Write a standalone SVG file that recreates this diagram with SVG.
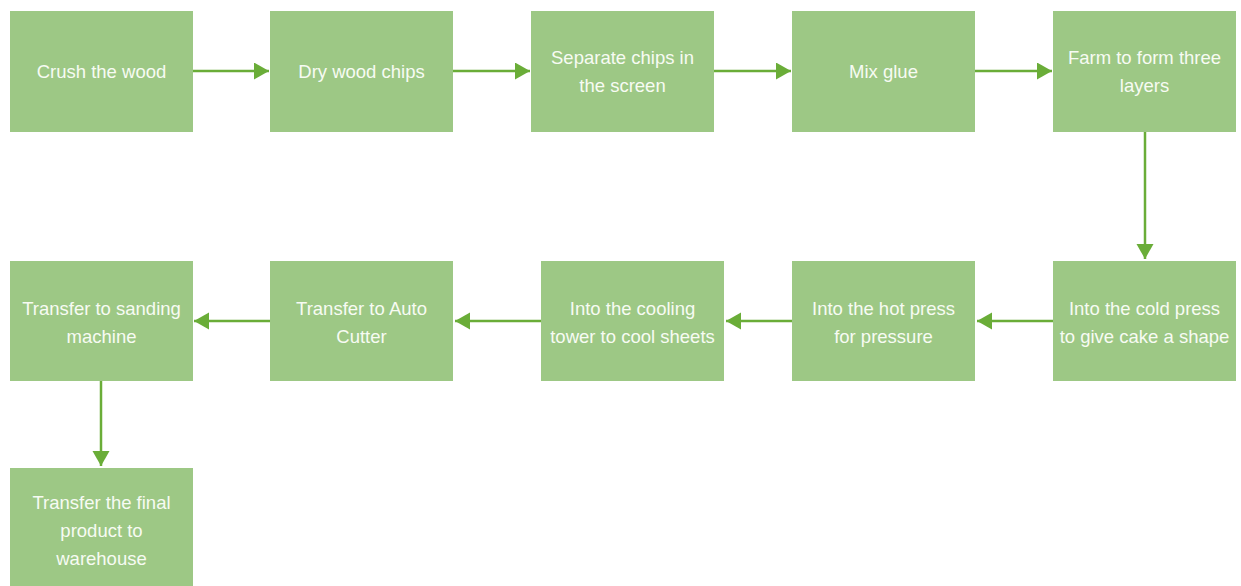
<svg xmlns="http://www.w3.org/2000/svg" width="1241" height="586" viewBox="0 0 1241 586">
<style>
.box{fill:#9DC885;}
.t{font-family:"Liberation Sans",Arial,sans-serif;font-size:18.5px;fill:#F7FBF3;text-anchor:middle;}
.c{stroke:#6AAD38;stroke-width:2.5;fill:none;marker-end:url(#ah);}
</style>
<defs>
<marker id="ah" markerUnits="userSpaceOnUse" markerWidth="16" markerHeight="18" refX="15" refY="8.5" orient="auto">
<path d="M0,0 L15,8.5 L0,17 Z" fill="#6AAD38"/>
</marker>
</defs>
<rect width="1241" height="586" fill="#FFFFFF"/>
<g id="connectors">
<line class="c" x1="193" y1="71" x2="269" y2="71"/>
<line class="c" x1="453" y1="71" x2="530" y2="71"/>
<line class="c" x1="714" y1="71" x2="791" y2="71"/>
<line class="c" x1="975" y1="71" x2="1052" y2="71"/>
<line class="c" x1="1145" y1="132" x2="1145" y2="259"/>
<line class="c" x1="1053" y1="321" x2="977" y2="321"/>
<line class="c" x1="792" y1="321" x2="726" y2="321"/>
<line class="c" x1="541" y1="321" x2="455" y2="321"/>
<line class="c" x1="270" y1="321" x2="194" y2="321"/>
<line class="c" x1="101" y1="381" x2="101" y2="466"/>
</g>
<g id="n1"><rect class="box" x="10" y="11" width="183" height="121"/><text class="t" x="101.5" y="78">Crush the wood</text></g>
<g id="n2"><rect class="box" x="270" y="11" width="183" height="121"/><text class="t" x="361.5" y="78">Dry wood chips</text></g>
<g id="n3"><rect class="box" x="531" y="11" width="183" height="121"/><text class="t" x="622.5" y="64">Separate chips in</text><text class="t" x="622.5" y="92">the screen</text></g>
<g id="n4"><rect class="box" x="792" y="11" width="183" height="121"/><text class="t" x="883.5" y="78">Mix glue</text></g>
<g id="n5"><rect class="box" x="1053" y="11" width="183" height="121"/><text class="t" x="1144.5" y="64">Farm to form three</text><text class="t" x="1144.5" y="92">layers</text></g>
<g id="n6"><rect class="box" x="1053" y="261" width="183" height="120"/><text class="t" x="1144.5" y="315">Into the cold press</text><text class="t" x="1144.5" y="343">to give cake a shape</text></g>
<g id="n7"><rect class="box" x="792" y="261" width="183" height="120"/><text class="t" x="883.5" y="315">Into the hot press</text><text class="t" x="883.5" y="343">for pressure</text></g>
<g id="n8"><rect class="box" x="541" y="261" width="183" height="120"/><text class="t" x="632.5" y="315">Into the cooling</text><text class="t" x="632.5" y="343">tower to cool sheets</text></g>
<g id="n9"><rect class="box" x="270" y="261" width="183" height="120"/><text class="t" x="361.5" y="315">Transfer to Auto</text><text class="t" x="361.5" y="343">Cutter</text></g>
<g id="n10"><rect class="box" x="10" y="261" width="183" height="120"/><text class="t" x="101.5" y="315">Transfer to sanding</text><text class="t" x="101.5" y="343">machine</text></g>
<g id="n11"><rect class="box" x="10" y="468" width="183" height="120"/><text class="t" x="101.5" y="509">Transfer the final</text><text class="t" x="101.5" y="537">product to</text><text class="t" x="101.5" y="565">warehouse</text></g>
</svg>
